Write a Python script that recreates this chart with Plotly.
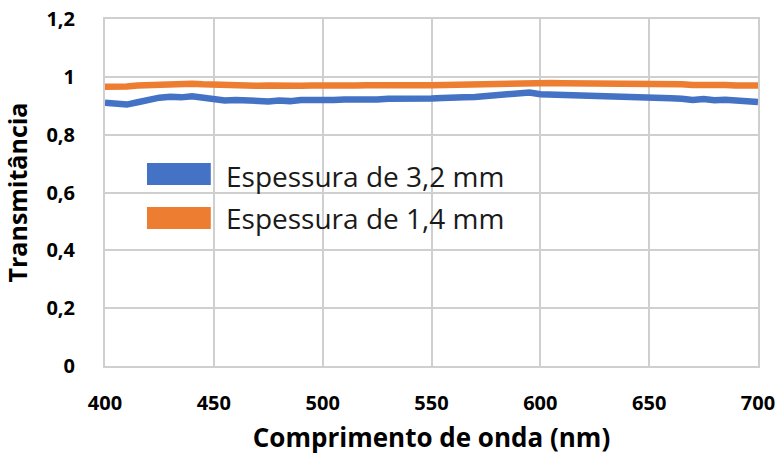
import plotly.graph_objects as go

# Wavelength grid (nm)
wavelength = list(range(400, 701, 5))

# Transmittance, 3.2 mm thick sample
trans_32 = [
    0.910, 0.906, 0.904, 0.912, 0.922, 0.928, 0.931, 0.929, 0.933, 0.928,
    0.922, 0.918, 0.920, 0.917, 0.914, 0.915, 0.918, 0.916, 0.920, 0.919,
    0.921, 0.920, 0.922, 0.921, 0.923, 0.922, 0.924, 0.923, 0.925, 0.926,
    0.925, 0.927, 0.926, 0.929, 0.930, 0.933, 0.939, 0.938, 0.941, 0.946,
    0.940, 0.939, 0.937, 0.938, 0.935, 0.936, 0.934, 0.933, 0.935, 0.932,
    0.931, 0.928, 0.926, 0.924, 0.920, 0.923, 0.919, 0.921, 0.917, 0.918,
    0.913,
]

# Transmittance, 1.4 mm thick sample
trans_14 = [
    0.966, 0.965, 0.967, 0.970, 0.972, 0.973, 0.975, 0.974, 0.976, 0.974,
    0.972, 0.971, 0.970, 0.971, 0.969, 0.970, 0.968, 0.970, 0.969, 0.970,
    0.969, 0.970, 0.971, 0.970, 0.971, 0.970, 0.969, 0.971, 0.970, 0.971,
    0.971, 0.972, 0.973, 0.974, 0.975, 0.976, 0.978, 0.979, 0.980, 0.982,
    0.980, 0.979, 0.978, 0.978, 0.977, 0.977, 0.976, 0.976, 0.975, 0.976,
    0.975, 0.974, 0.973, 0.974, 0.972, 0.973, 0.971, 0.972, 0.970, 0.971,
    0.970,
]

series_names = ["Espessura de 3,2 mm", "Espessura de 1,4 mm"]
series_colors = ["#4472C4", "#ED7D31"]

x_ticks = [400, 450, 500, 550, 600, 650, 700]
y_ticks = [0, 0.2, 0.4, 0.6, 0.8, 1.0, 1.2]
y_tick_text = ["0", "0,2", "0,4", "0,6", "0,8", "1", "1,2"]

FONT = "Open Sans"
GRID = "#CFCFCF"

fig = go.Figure()
for name, ys, color in zip(series_names, [trans_32, trans_14], series_colors):
    fig.add_trace(go.Scatter(
        x=wavelength, y=ys, mode="lines", name=name,
        line=dict(color=color, width=6.5), showlegend=False,
    ))

# Legend drawn as swatches + labels inside the plot area
legend_rows = [(0.5216, 0.585, 0.5476), (0.395, 0.458, 0.4265)]
for (y0, y1, yc), name, color in zip(legend_rows, series_names, series_colors):
    fig.add_shape(type="rect", xref="paper", yref="paper",
                  x0=0.0643, x1=0.162, y0=y0, y1=y1,
                  fillcolor=color, line=dict(width=0), layer="above")
    fig.add_annotation(xref="paper", yref="paper", x=0.182, y=yc,
                       text=name, showarrow=False, xanchor="left", yanchor="middle",
                       font=dict(family=FONT, size=28, color="#1a1a1a"))

fig.update_layout(
    width=779, height=457,
    margin=dict(l=105, r=21, t=19, b=91),
    paper_bgcolor="white", plot_bgcolor="white",
    font=dict(family=FONT, color="#000000"),
)
fig.update_xaxes(
    range=[400, 700], tickvals=x_ticks, automargin=False,
    tickfont=dict(family=FONT, size=20, color="#000000", weight="bold"),
    showgrid=True, gridcolor=GRID, gridwidth=2,
    showline=True, linecolor=GRID, linewidth=2, mirror=True,
    ticks="", ticklabelstandoff=18, zeroline=False,
    title=dict(text="<b>Comprimento de onda (nm)</b>",
               font=dict(family=FONT, size=26, color="#000000"), standoff=14),
)
fig.update_yaxes(
    range=[0, 1.2], tickvals=y_ticks, ticktext=y_tick_text, automargin=False,
    tickfont=dict(family=FONT, size=20, color="#000000", weight="bold"),
    showgrid=True, gridcolor=GRID, gridwidth=2,
    showline=True, linecolor=GRID, linewidth=2, mirror=True,
    ticks="", ticklabelstandoff=24, zeroline=False,
    title=dict(text="<b>Transmitância</b>",
               font=dict(family=FONT, size=25, color="#000000"), standoff=12),
)

fig.write_html("out.html")
